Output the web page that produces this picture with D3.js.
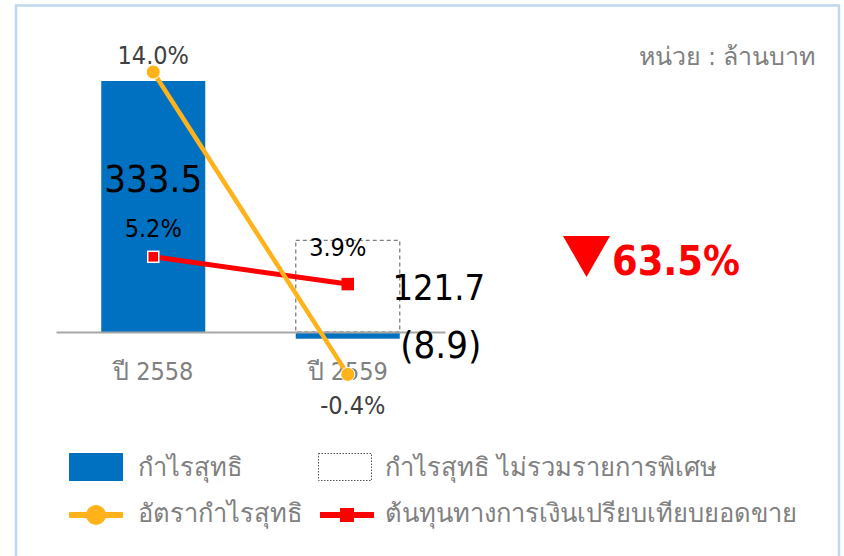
<!DOCTYPE html>
<html>
<head>
<meta charset="utf-8">
<script src="https://cdn.jsdelivr.net/npm/d3@7"></script>
<style>
  body { margin: 0; background: #fff; }
  svg text { font-family: "Tahoma", "DejaVu Sans Condensed", "DejaVu Sans", "Noto Sans", sans-serif; }
</style>
</head>
<body>
<div id="chart"></div>
<script>
// net profit chart, two years
var years = ["ปี 2558", "ปี 2559"];
var netProfit = [333.5, -8.9];
var netProfitExSpecial = [null, 121.7];
var profitMargin = [14.0, -0.4];
var financeCostRatio = [5.2, 3.9];
var profitLabels = ["333.5", "(8.9)"];
var exSpecialLabels = [null, "121.7"];
var marginLabels = ["14.0%", "-0.4%"];
var costLabels = ["5.2%", "3.9%"];
var changeLabel = "63.5%";
var unitLabel = "หน่วย : ล้านบาท";
var legendNames = ["กำไรสุทธิ", "กำไรสุทธิ ไม่รวมรายการพิเศษ", "อัตรากำไรสุทธิ", "ต้นทุนทางการเงินเปรียบเทียบยอดขาย"];

var width = 844, height = 556;
var blue = "#0070c0", orange = "#ffb219", red = "#ff0000", grey = "#808080";

var svg = d3.select("#chart").append("svg")
    .attr("width", width)
    .attr("height", height);

// outer frame
svg.append("rect")
    .attr("x", 16).attr("y", 5.5)
    .attr("width", 823).attr("height", 560)
    .attr("fill", "none")
    .attr("stroke", "#bdd7ee")
    .attr("stroke-width", 2.5);

var x = d3.scalePoint()
    .domain(years)
    .range([56, 445])
    .padding(0.5);

var y = d3.scaleLinear()      // baht values
    .domain([0, 333.5])
    .range([332, 81]);

var yp = d3.scaleLinear()     // percentages
    .domain([0, 14])
    .range([366, 72]);

var barW = 104;

// bars
svg.selectAll("rect.bar")
    .data(netProfit)
    .enter().append("rect")
    .attr("class", "bar")
    .attr("x", (d, i) => x(years[i]) - barW / 2)
    .attr("y", d => Math.min(y(d), y(0)))
    .attr("width", barW)
    .attr("height", d => Math.abs(y(d) - y(0)))
    .attr("fill", blue);

// dashed box for profit excluding special items
svg.selectAll("rect.ex")
    .data(netProfitExSpecial.map((d, i) => ({v: d, i: i})).filter(d => d.v != null))
    .enter().append("rect")
    .attr("class", "ex")
    .attr("x", d => x(years[d.i]) - barW / 2)
    .attr("y", d => y(d.v))
    .attr("width", barW)
    .attr("height", d => y(0) - y(d.v))
    .attr("fill", "none")
    .attr("stroke", grey)
    .attr("stroke-width", 1.3)
    .attr("stroke-dasharray", "4,3");

// axis line
var xAxis = svg.append("g")
    .attr("transform", "translate(0," + y(0) + ")")
    .call(d3.axisBottom(x).tickSize(0).tickPadding(0).tickFormat(""));
xAxis.select(".domain").attr("stroke", "#a6a6a6").attr("stroke-width", 2);

svg.selectAll("text.cat")
    .data(years)
    .enter().append("text")
    .attr("class", "cat")
    .attr("x", d => x(d))
    .attr("y", 380)
    .attr("text-anchor", "middle")
    .attr("font-size", 25)
    .attr("fill", grey)
    .text(d => d);

// lines
function drawLine(vals, colour, w) {
    var line = d3.line()
        .x((d, i) => x(years[i]))
        .y(d => yp(d));
    svg.append("path")
        .datum(vals)
        .attr("d", line)
        .attr("fill", "none")
        .attr("stroke", colour)
        .attr("stroke-width", w);
}
drawLine(financeCostRatio, red, 5);
drawLine(profitMargin, orange, 4.5);

svg.selectAll("rect.sq")
    .data(financeCostRatio)
    .enter().append("rect")
    .attr("class", "sq")
    .attr("x", (d, i) => x(years[i]) - 5.5)
    .attr("y", d => yp(d) - 5.5)
    .attr("width", 11).attr("height", 11)
    .attr("fill", red)
    .attr("stroke", (d, i) => i == 0 ? "#fff" : red)
    .attr("stroke-width", 1.5);

svg.selectAll("circle.dot")
    .data(profitMargin)
    .enter().append("circle")
    .attr("class", "dot")
    .attr("cx", (d, i) => x(years[i]))
    .attr("cy", d => yp(d))
    .attr("r", 7)
    .attr("fill", orange)
    .attr("stroke", "#fff")
    .attr("stroke-width", 1);

// value labels
svg.selectAll("text.pv")
    .data(netProfit)
    .enter().append("text")
    .attr("class", "pv")
    .attr("x", (d, i) => i == 0 ? x(years[i]) : x(years[i]) + 93)
    .attr("y", (d, i) => i == 0 ? 192 : 358)
    .attr("text-anchor", "middle")
    .attr("font-size", 38)
    .attr("fill", "#000")
    .text((d, i) => profitLabels[i]);

svg.selectAll("text.ev")
    .data(netProfitExSpecial.map((d, i) => ({v: d, i: i})).filter(d => d.v != null))
    .enter().append("text")
    .attr("class", "ev")
    .attr("x", d => x(years[d.i]) + 91)
    .attr("y", 300)
    .attr("text-anchor", "middle")
    .attr("font-size", 36)
    .attr("fill", "#000")
    .text(d => exSpecialLabels[d.i]);

svg.selectAll("text.mv")
    .data(profitMargin)
    .enter().append("text")
    .attr("class", "mv")
    .attr("x", (d, i) => x(years[i]) + (i == 0 ? 0 : 5))
    .attr("y", (d, i) => i == 0 ? yp(d) - 8 : yp(d) + 40)
    .attr("text-anchor", "middle")
    .attr("font-size", 25)
    .attr("fill", "#404040")
    .text((d, i) => marginLabels[i]);

svg.selectAll("text.cv")
    .data(financeCostRatio)
    .enter().append("text")
    .attr("class", "cv")
    .attr("x", (d, i) => x(years[i]) + (i == 0 ? 0 : -10))
    .attr("y", (d, i) => i == 0 ? yp(d) - 20 : yp(d) - 28)
    .attr("text-anchor", "middle")
    .attr("font-size", 25)
    .attr("fill", "#000")
    .text((d, i) => costLabels[i]);

// unit
svg.append("text")
    .attr("x", 815).attr("y", 65)
    .attr("text-anchor", "end")
    .attr("font-size", 25)
    .attr("fill", grey)
    .text(unitLabel);

// change
svg.append("path")
    .attr("d", "M563,236 L610,236 L586.5,277 Z")
    .attr("fill", red);
svg.append("text")
    .attr("x", 612).attr("y", 275)
    .attr("font-size", 41)
    .attr("font-weight", "bold")
    .attr("fill", red)
    .text(changeLabel);

// legend
var lg = svg.append("g");
lg.append("rect").attr("x", 69).attr("y", 453).attr("width", 54).attr("height", 28).attr("fill", blue);
lg.append("rect").attr("x", 318.5).attr("y", 453.5).attr("width", 53).attr("height", 27)
    .attr("fill", "none").attr("stroke", "#555").attr("stroke-width", 1).attr("stroke-dasharray", "1.5,1.5");
lg.append("line").attr("x1", 69).attr("x2", 123).attr("y1", 515).attr("y2", 515)
    .attr("stroke", orange).attr("stroke-width", 6);
lg.append("circle").attr("cx", 96).attr("cy", 515).attr("r", 10).attr("fill", orange);
lg.append("line").attr("x1", 320).attr("x2", 374).attr("y1", 515).attr("y2", 515)
    .attr("stroke", red).attr("stroke-width", 6);
lg.append("rect").attr("x", 340).attr("y", 508).attr("width", 14).attr("height", 14).attr("fill", red);

var legPos = [[138, 476], [385, 476], [138, 522], [385, 522]];
lg.selectAll("text")
    .data(legendNames)
    .enter().append("text")
    .attr("x", (d, i) => legPos[i][0])
    .attr("y", (d, i) => legPos[i][1])
    .attr("font-size", 25.5)
    .attr("fill", grey)
    .text(d => d);
</script>
</body>
</html>
